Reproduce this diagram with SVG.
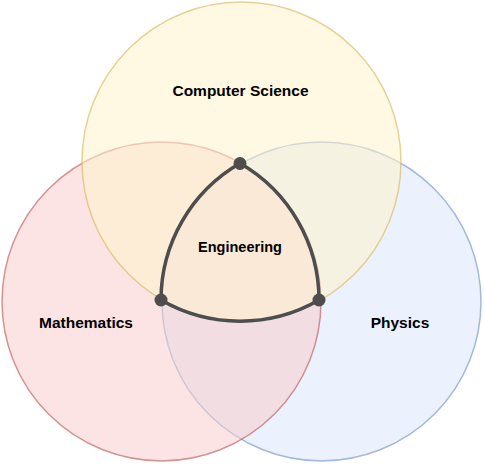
<svg xmlns="http://www.w3.org/2000/svg" width="484" height="467" viewBox="0 0 484 467">
<style>
.set{stroke-width:1.5;fill-opacity:0.55;stroke-opacity:0.6}
.lbl{font-family:"Liberation Sans",Arial,Helvetica,sans-serif;font-weight:bold;font-size:15.5px;fill:#000;text-anchor:middle}
.dot{fill:#4d4d4d}
</style>
<rect width="484" height="467" fill="#ffffff"/>
<g id="physics">
<circle class="set" cx="321.5" cy="301.5" r="159.5" fill="#dae8fc" stroke="#6c8ebf"/>
</g>
<g id="mathematics">
<circle class="set" cx="161.5" cy="301.5" r="159.5" fill="#f8cecc" stroke="#b85450"/>
</g>
<g id="computer-science">
<circle class="set" cx="241.5" cy="161.5" r="159.5" fill="#fff2cc" stroke="#d6b656"/>
</g>
<g id="connectors">
<path d="M240,163.2 A158,158 0 0 1 319,300 A158,158 0 0 1 161,300 A158,158 0 0 1 240,163.2 Z" fill="none" stroke="#4d4d4d" stroke-width="3.5" stroke-linejoin="round"/>
</g>
<g id="engineering">
<circle class="dot" cx="240" cy="163.5" r="6.5"/>
<circle class="dot" cx="161" cy="300" r="6.5"/>
<circle class="dot" cx="319" cy="300" r="6.5"/>
<text class="lbl" x="240" y="252" style="font-size:14.5px">Engineering</text>
</g>
<g id="labels">
<text class="lbl" x="240.5" y="96">Computer Science</text>
<text class="lbl" x="86" y="328">Mathematics</text>
<text class="lbl" x="400" y="328">Physics</text>
</g>
</svg>
